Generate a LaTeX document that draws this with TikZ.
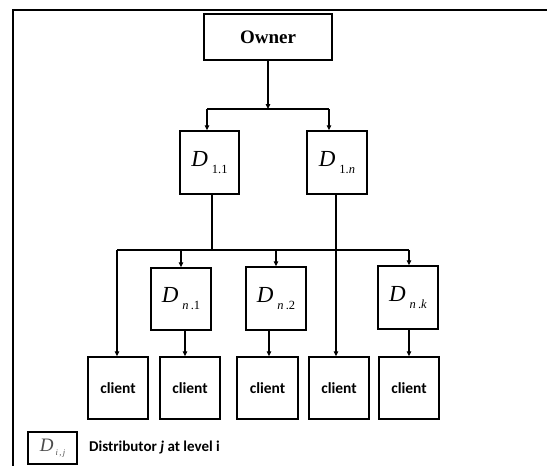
\documentclass[tikz,border=0pt]{standalone}
\usepackage{fontspec}
\setmainfont{Liberation Serif}
\newfontfamily\carlitofont{Carlito}
\usetikzlibrary{arrows.meta}

\tikzset{
  box/.style={draw=black, line width=1.5pt, rectangle, inner sep=0pt, fill=white},
  arr/.style={line width=1.1pt, -{Triangle[length=5pt,width=4.5pt]}},
  wire/.style={line width=1.1pt},
  clientbox/.style={box, minimum width=60pt, minimum height=62pt,
    font=\carlitofont\bfseries\fontsize{15.5}{17}\selectfont},
  distbox/.style={box, minimum width=60pt, minimum height=63pt},
}

% distributor label: italic D with a lowered, spaced index
\newcommand{\distlbl}[1]{{\fontsize{23}{25}\selectfont\itshape D}\hspace{4pt}\raisebox{-7pt}{\fontsize{12.5}{13}\selectfont #1}}

\begin{document}
\begin{tikzpicture}[x=1pt, y=-1pt]
  \useasboundingbox[fill=white] (0,0) rectangle (547,466);

  % open frame: left and top edges
  \draw[line width=1.6pt] (13,466) -- (13,10) -- (547,10);

  % owner
  \node[box, minimum width=128pt, minimum height=46pt,
        font=\bfseries\fontsize{19}{21}\selectfont] (owner) at (268,37) {Owner};

  % first level distributors
  \node[distbox, minimum width=59pt] (d11) at (209.5,162.5) {\distlbl{1.1}};
  \node[distbox] (d1n) at (337,162.5) {\distlbl{1.\textit{n}}};

  % n-th level distributors
  \node[distbox, minimum height=62pt] (dn1) at (181,299) {\distlbl{\textit{n}\,.1}};
  \node[distbox] (dn2) at (276,298.5) {\distlbl{\textit{n}\,.2}};
  \node[distbox] (dnk) at (408,297.5) {\distlbl{\textit{n}\,.\textit{k}}};

  % clients
  \node[clientbox] (c1) at (118,388) {client};
  \node[clientbox] (c2) at (190,388) {client};
  \node[clientbox, minimum width=61pt] (c3) at (267.5,388) {client};
  \node[clientbox] (c4) at (339,388) {client};
  \node[clientbox] (c5) at (409,388) {client};

  % owner to first level
  \coordinate (hub1) at (268,109);
  \coordinate (b1L) at (207,109);
  \coordinate (b1R) at (329,109);
  \draw[arr] (owner.south) -- (hub1);
  \draw[wire] (b1L) -- (b1R);
  \draw[arr] (b1L) -- (b1L |- d11.north);
  \draw[arr] (b1R) -- (b1R |- d1n.north);

  % D_{1.1} to the n-th level bus
  \coordinate (hub2) at (212,250);
  \coordinate (b2L) at (117,250);
  \coordinate (b2R) at (409,250);
  \draw[wire] (d11.south -| hub2) -- (hub2);
  \draw[wire] (b2L) -- (b2R);
  \draw[arr] (b2L) -- (b2L |- c1.north);
  \draw[arr] (dn1.north |- b2L) -- (dn1.north);
  \draw[arr] (dn2.north |- b2L) -- (dn2.north);
  \draw[arr] (b2R) -- (b2R |- dnk.north);

  % D_{1.n} straight to a client
  \coordinate (x336) at (336,0);
  \draw[arr] (d1n.south -| x336) -- (c4.north -| x336);

  % n-th level distributors to clients
  \coordinate (x185) at (185,0);
  \coordinate (x269) at (269,0);
  \draw[arr] (dn1.south -| x185) -- (c2.north -| x185);
  \draw[arr] (dn2.south -| x269) -- (c3.north -| x269);
  \draw[arr] (dnk.south -| b2R) -- (c5.north -| b2R);

  % legend
  \node[box, line width=1.2pt, minimum width=49pt, minimum height=32pt] (leg) at (52.5,448)
    {\color{black!70}{\fontsize{19}{20}\selectfont\itshape D}\hspace{2pt}\raisebox{-4pt}{\fontsize{8.5}{9}\selectfont\itshape i\,,\,j}};
  \node[anchor=west, inner sep=0pt, font=\carlitofont\bfseries\fontsize{15}{17}\selectfont]
    (legtxt) at (89,448) {Distributor \textit{j} at level i};
\end{tikzpicture}
\end{document}
